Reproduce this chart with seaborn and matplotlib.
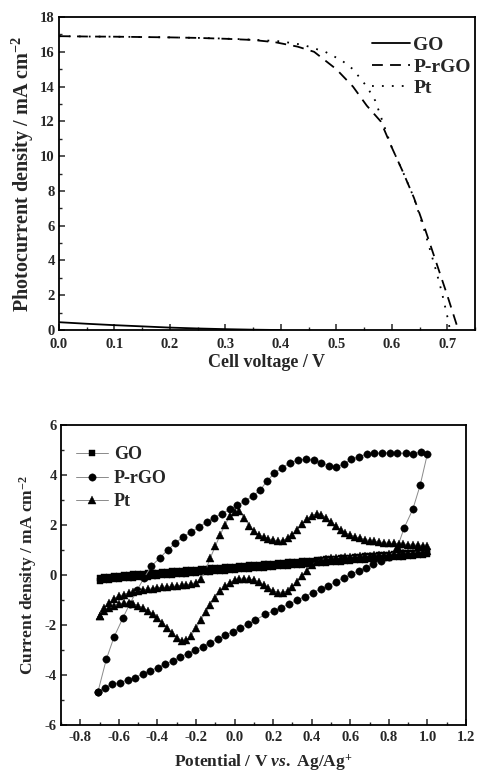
import numpy as np
import pandas as pd
import matplotlib
matplotlib.use("Agg")
import matplotlib.pyplot as plt
from matplotlib.ticker import MultipleLocator
import seaborn as sns

# ---------------- J-V curves (upper panel) ----------------
go_jv_v = [0.00, 0.05, 0.10, 0.15, 0.20, 0.25, 0.30, 0.35, 0.40]
go_jv_j = [0.45, 0.36, 0.28, 0.21, 0.14, 0.09, 0.05, 0.02, 0.00]

prgo_jv_v = [0.00, 0.05, 0.10, 0.15, 0.20, 0.25, 0.30, 0.35, 0.39, 0.43, 0.46,
             0.50, 0.53, 0.555, 0.58, 0.60, 0.62, 0.64, 0.66, 0.68, 0.70, 0.71, 0.72]
prgo_jv_j = [16.90, 16.88, 16.87, 16.85, 16.83, 16.80, 16.75, 16.68, 16.55, 16.30, 16.00,
             15.00, 14.00, 12.90, 12.00, 10.50, 9.10, 7.60, 5.80, 3.90, 2.00, 1.00, 0.00]

pt_jv_v = [0.00, 0.05, 0.10, 0.15, 0.20, 0.25, 0.30, 0.35, 0.40, 0.44, 0.48, 0.51,
           0.53, 0.555, 0.57, 0.58, 0.60, 0.62, 0.64, 0.66, 0.68, 0.69, 0.70, 0.705]
pt_jv_j = [16.90, 16.88, 16.87, 16.85, 16.83, 16.80, 16.76, 16.70, 16.60, 16.40, 16.00, 15.50,
           15.00, 14.00, 13.20, 12.30, 10.50, 9.10, 7.60, 5.60, 3.40, 2.20, 0.80, 0.00]

# ---------------- Cyclic voltammograms (lower panel) ----------------
# scan potentials shared by GO and Pt (forward sweep; reverse uses the same points backwards)
scan_fwd = [-0.700, -0.675, -0.650, -0.625, -0.600, -0.575, -0.550, -0.525, -0.500, -0.475,
            -0.450, -0.425, -0.400, -0.375, -0.350, -0.325, -0.300, -0.275, -0.250, -0.225,
            -0.200, -0.175, -0.150, -0.125, -0.100, -0.075, -0.050, -0.025, 0.000, 0.025,
            0.050, 0.075, 0.100, 0.125, 0.150, 0.175, 0.200, 0.225, 0.250, 0.275,
            0.300, 0.325, 0.350, 0.375, 0.400, 0.425, 0.450, 0.475, 0.500, 0.525,
            0.550, 0.575, 0.600, 0.625, 0.650, 0.675, 0.700, 0.725, 0.750, 0.775,
            0.800, 0.825, 0.850, 0.875, 0.900, 0.925, 0.950, 0.975, 1.000]
scan_rev = scan_fwd[::-1]

go_cv_fwd = [-0.22, -0.20, -0.18, -0.17, -0.15, -0.13, -0.12, -0.10, -0.09, -0.07,
             -0.06, -0.04, -0.03, -0.01, 0.00, 0.02, 0.03, 0.05, 0.06, 0.08,
             0.09, 0.11, 0.12, 0.14, 0.15, 0.17, 0.18, 0.20, 0.21, 0.23,
             0.24, 0.26, 0.27, 0.29, 0.30, 0.32, 0.33, 0.35, 0.36, 0.38,
             0.39, 0.41, 0.42, 0.44, 0.45, 0.47, 0.48, 0.50, 0.51, 0.53,
             0.54, 0.56, 0.57, 0.59, 0.60, 0.62, 0.63, 0.65, 0.66, 0.68,
             0.69, 0.71, 0.72, 0.74, 0.75, 0.77, 0.79, 0.82, 0.86]
go_cv_rev = [0.98, 0.95, 0.92, 0.90, 0.88, 0.87, 0.85, 0.84, 0.82, 0.81,
             0.79, 0.78, 0.76, 0.75, 0.73, 0.72, 0.70, 0.69, 0.67, 0.66,
             0.64, 0.63, 0.61, 0.60, 0.58, 0.57, 0.55, 0.54, 0.52, 0.51,
             0.49, 0.48, 0.46, 0.45, 0.43, 0.42, 0.40, 0.39, 0.37, 0.36,
             0.34, 0.33, 0.31, 0.30, 0.28, 0.27, 0.25, 0.24, 0.22, 0.21,
             0.19, 0.18, 0.16, 0.15, 0.13, 0.12, 0.10, 0.09, 0.07, 0.06,
             0.04, 0.03, 0.01, 0.00, -0.02, -0.04, -0.06, -0.09, -0.13]

pt_cv_fwd = [-1.65, -1.30, -1.10, -0.95, -0.85, -0.78, -0.72, -0.68, -0.64, -0.60,
             -0.57, -0.54, -0.51, -0.49, -0.47, -0.45, -0.43, -0.41, -0.39, -0.36,
             -0.30, -0.15, 0.20, 0.70, 1.15, 1.60, 2.00, 2.35, 2.52, 2.55,
             2.30, 1.98, 1.75, 1.62, 1.52, 1.45, 1.40, 1.37, 1.38, 1.47,
             1.62, 1.82, 2.05, 2.25, 2.38, 2.45, 2.42, 2.30, 2.13, 1.95,
             1.80, 1.68, 1.60, 1.53, 1.47, 1.42, 1.38, 1.35, 1.32, 1.30,
             1.28, 1.27, 1.25, 1.24, 1.22, 1.21, 1.20, 1.18, 1.15]
pt_cv_rev = [0.95, 0.93, 0.92, 0.90, 0.89, 0.87, 0.86, 0.85, 0.83, 0.82,
             0.80, 0.79, 0.78, 0.76, 0.75, 0.74, 0.72, 0.71, 0.70, 0.68,
             0.67, 0.65, 0.62, 0.55, 0.40, 0.18, -0.05, -0.28, -0.48, -0.62,
             -0.70, -0.70, -0.63, -0.52, -0.40, -0.28, -0.20, -0.16, -0.14, -0.15,
             -0.20, -0.30, -0.45, -0.65, -0.90, -1.18, -1.48, -1.80, -2.12, -2.42,
             -2.60, -2.62, -2.50, -2.30, -2.10, -1.90, -1.72, -1.55, -1.42, -1.32,
             -1.22, -1.15, -1.12, -1.12, -1.15, -1.22, -1.32, -1.45, -1.65]

prgo_cv_e = [-0.708, -0.673, -0.635, -0.595, -0.555, -0.517, -0.477, -0.439, -0.399, -0.361,
             -0.321, -0.283, -0.243, -0.205, -0.165, -0.127, -0.086, -0.048, -0.008, 0.030,
             0.070, 0.108, 0.160, 0.203, 0.243, 0.281, 0.325, 0.365, 0.406, 0.446,
             0.486, 0.524, 0.565, 0.603, 0.643, 0.681, 0.719, 0.760, 0.800, 0.840,
             0.880, 0.924, 0.962, 1.000,
             0.965, 0.927, 0.887, 0.844, 0.806, 0.766, 0.722, 0.684, 0.644, 0.605,
             0.566, 0.528, 0.488, 0.449, 0.410, 0.372, 0.329, 0.289, 0.246, 0.206,
             0.168, 0.133, 0.093, 0.055, 0.015, -0.023, -0.067, -0.106, -0.145, -0.184,
             -0.226, -0.266, -0.309, -0.347, -0.387, -0.431, -0.470, -0.505, -0.543, -0.578,
             -0.625, -0.665, -0.708]
prgo_cv_j = [-4.66, -4.50, -4.37, -4.30, -4.20, -4.10, -3.97, -3.84, -3.70, -3.57,
             -3.44, -3.28, -3.14, -3.00, -2.86, -2.70, -2.57, -2.41, -2.28, -2.10,
             -1.97, -1.80, -1.57, -1.44, -1.30, -1.17, -1.01, -0.86, -0.70, -0.57,
             -0.44, -0.28, -0.13, 0.03, 0.16, 0.30, 0.43, 0.58, 0.74, 1.02,
             1.90, 2.63, 3.59, 4.86,
             4.92, 4.85, 4.87, 4.88, 4.89, 4.89, 4.87, 4.83, 4.73, 4.63,
             4.43, 4.32, 4.36, 4.49, 4.59, 4.63, 4.60, 4.49, 4.29, 4.07,
             3.76, 3.40, 3.16, 2.96, 2.79, 2.63, 2.45, 2.29, 2.12, 1.92,
             1.72, 1.53, 1.27, 1.00, 0.69, 0.36, -0.12, -0.60, -1.15, -1.70,
             -2.48, -3.37, -4.66]

# ---------------- styling ----------------
sns.set_style("ticks")
plt.rcParams.update({
    "font.family": ["Liberation Serif", "DejaVu Serif"],
    "font.weight": "bold",
    "axes.labelweight": "bold",
    "mathtext.fontset": "custom",
    "mathtext.rm": "Liberation Serif:bold",
    "mathtext.bf": "Liberation Serif:bold",
    "mathtext.it": "Liberation Serif:italic:bold",
    "axes.linewidth": 1.3,
    "xtick.direction": "in",
    "ytick.direction": "in",
    "xtick.major.width": 1.1,
    "ytick.major.width": 1.1,
    "xtick.minor.width": 1.0,
    "ytick.minor.width": 1.0,
    "xtick.major.size": 4,
    "ytick.major.size": 4,
    "xtick.minor.size": 2.5,
    "ytick.minor.size": 2.5,
    "xtick.labelsize": 10.5,
    "ytick.labelsize": 10.5,
    "axes.edgecolor": "black",
})

fig = plt.figure(figsize=(4.78, 7.78), dpi=100)
ax1 = fig.add_axes([0.1234, 0.5758, 0.8703, 0.4023])
ax2 = fig.add_axes([0.1276, 0.0681, 0.8474, 0.3856])

# upper panel: J-V curves
jv = pd.concat([
    pd.DataFrame({"V": go_jv_v, "J": go_jv_j, "s": "GO"}),
    pd.DataFrame({"V": prgo_jv_v, "J": prgo_jv_j, "s": "P-rGO"}),
    pd.DataFrame({"V": pt_jv_v, "J": pt_jv_j, "s": "Pt"}),
])
sns.lineplot(data=jv, x="V", y="J", style="s", hue="s",
             palette={"GO": "black", "P-rGO": "black", "Pt": "black"},
             dashes={"GO": "", "P-rGO": (6, 4), "Pt": (1, 4.5)},
             sort=False, estimator=None, linewidth=1.3, ax=ax1)
ax1.set_xlim(0, 0.75)
ax1.set_ylim(0, 18)
ax1.xaxis.set_major_locator(MultipleLocator(0.1))
ax1.xaxis.set_minor_locator(MultipleLocator(0.05))
ax1.yaxis.set_major_locator(MultipleLocator(2))
ax1.yaxis.set_minor_locator(MultipleLocator(1))
ax1.set_xticks([0, 0.1, 0.2, 0.3, 0.4, 0.5, 0.6, 0.7])
ax1.set_xticklabels(["0.0", "0.1", "0.2", "0.3", "0.4", "0.5", "0.6", "0.7"])
ax1.set_xlabel("Cell voltage / V", fontsize=13, labelpad=2)
ax1.set_ylabel(r"Photocurrent density / mA cm$^{-2}$", fontsize=14.5, labelpad=3)
leg1 = ax1.legend(loc="upper right", bbox_to_anchor=(1.018, 0.975), frameon=False,
                  fontsize=14, handlelength=2.0, handletextpad=0.15, labelspacing=0.2,
                  borderaxespad=0.2)
for h in leg1.get_lines():
    h.set_linewidth(1.3)

# lower panel: cyclic voltammograms
cv = pd.concat([
    pd.DataFrame({"E": scan_fwd + scan_rev, "J": go_cv_fwd + go_cv_rev, "s": "GO"}),
    pd.DataFrame({"E": prgo_cv_e, "J": prgo_cv_j, "s": "P-rGO"}),
    pd.DataFrame({"E": scan_fwd + scan_rev, "J": pt_cv_fwd + pt_cv_rev, "s": "Pt"}),
])
marker_map = {"GO": "s", "P-rGO": "o", "Pt": "^"}
size_map = {"GO": 4.2, "P-rGO": 5.3, "Pt": 5.4}
for name in ["GO", "P-rGO", "Pt"]:
    sub = cv[cv["s"] == name]
    sns.lineplot(data=sub, x="E", y="J", sort=False, estimator=None, ax=ax2,
                 color="#8a8a8a", linewidth=0.7, marker=marker_map[name],
                 markersize=size_map[name], markerfacecolor="black",
                 markeredgecolor="black", markeredgewidth=0.3, label=name)
ax2.set_xlim(-0.9, 1.2)
ax2.set_ylim(-6, 6)
ax2.xaxis.set_major_locator(MultipleLocator(0.2))
ax2.xaxis.set_minor_locator(MultipleLocator(0.1))
ax2.yaxis.set_major_locator(MultipleLocator(2))
ax2.yaxis.set_minor_locator(MultipleLocator(1))
ax2.set_xticks([-0.8, -0.6, -0.4, -0.2, 0.0, 0.2, 0.4, 0.6, 0.8, 1.0, 1.2])
ax2.set_xticklabels(["-0.8", "-0.6", "-0.4", "-0.2", "0.0", "0.2", "0.4", "0.6",
                     "0.8", "1.0", "1.2"])
ax2.set_yticks([-6, -4, -2, 0, 2, 4, 6])
ax2.set_yticklabels(["-6", "-4", "-2", "0", "2", "4", "6"])
ax2.set_xlabel(r"Potential / V $\mathit{vs.}$ Ag/Ag$^{+}$", fontsize=12.5, labelpad=6)
ax2.set_ylabel(r"Current density / mA cm$^{-2}$", fontsize=12.5, labelpad=4)
leg2 = ax2.legend(loc="upper left", bbox_to_anchor=(0.01, 0.965), frameon=False,
                  fontsize=13, handlelength=1.8, handletextpad=0.3, labelspacing=0.36,
                  borderaxespad=0.2)

for ax in (ax1, ax2):
    ax.tick_params(which="both", top=False, right=False)
    ax.tick_params(axis="y", pad=3)
    for lab in ax.get_xticklabels() + ax.get_yticklabels():
        lab.set_fontweight("bold")
    for sp in ax.spines.values():
        sp.set_visible(True)
ax1.tick_params(axis="x", pad=6)
ax2.tick_params(axis="x", pad=4)

fig.savefig("out.png", dpi=100)
